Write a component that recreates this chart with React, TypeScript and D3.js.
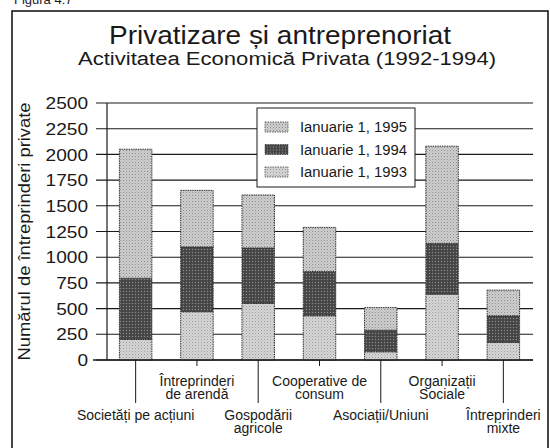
import React from "react";
import * as d3 from "d3";

const categories = [
  "Societăți pe acțiuni",
  "Întreprinderi de arendă",
  "Gospodării agricole",
  "Cooperative de consum",
  "Asociații/Uniuni",
  "Organizații Sociale",
  "Întreprinderi mixte",
];
const labelLines = [
  ["Societăți pe acțiuni"],
  ["Întreprinderi", "de arendă"],
  ["Gospodării", "agricole"],
  ["Cooperative de", "consum"],
  ["Asociații/Uniuni"],
  ["Organizații", "Sociale"],
  ["Întreprinderi", "mixte"],
];
// cumulative counts at each date
const jan1993 = [200, 470, 550, 430, 80, 640, 170];
const jan1994 = [795, 1100, 1090, 860, 290, 1135, 430];
const jan1995 = [2050, 1650, 1605, 1290, 510, 2080, 680];
const yTicks = [0, 250, 500, 750, 1000, 1250, 1500, 1750, 2000, 2250, 2500];
const legendLabels = ["Ianuarie 1, 1995", "Ianuarie 1, 1994", "Ianuarie 1, 1993"];

const W = 550;
const H = 448;
const FONT = "'Liberation Sans', Arial, Helvetica, sans-serif";
const INK = "#1a1a1a";

export default function App() {
  const x = d3.scaleBand<string>().domain(categories).range([105, 534]).paddingInner(0.47).paddingOuter(0.235);
  const y = d3.scaleLinear().domain([0, 2500]).range([360, 103]);
  const bw = x.bandwidth();

  const segs = categories.map((c, i) => [
    { y0: 0, y1: jan1993[i], fill: "url(#light)" },
    { y0: jan1993[i], y1: jan1994[i], fill: "url(#dark)" },
    { y0: jan1994[i], y1: jan1995[i], fill: "url(#light2)" },
  ]);

  const lgX = 257, lgY = 108, lgW = 158, lgH = 79;
  const lgFills = ["url(#light2)", "url(#dark)", "url(#light)"];

  return (
    <svg width={W} height={H} style={{ display: "block", position: "absolute", left: 0, top: 0, background: "#fff" }} fontFamily={FONT}>
      <defs>
        <pattern id="light" width="3" height="3" patternUnits="userSpaceOnUse">
          <rect width="3" height="3" fill="#d6d6d6" />
          <rect x="0" y="0" width="1" height="1" fill="#9a9a9a" />
          <rect x="1.5" y="1.5" width="1" height="1" fill="#b0b0b0" />
        </pattern>
        <pattern id="light2" width="3" height="3" patternUnits="userSpaceOnUse">
          <rect width="3" height="3" fill="#cecece" />
          <rect x="0" y="0" width="1" height="1" fill="#8e8e8e" />
          <rect x="1.5" y="1.5" width="1" height="1" fill="#a8a8a8" />
        </pattern>
        <pattern id="dark" width="3" height="3" patternUnits="userSpaceOnUse">
          <rect width="3" height="3" fill="#4d4d4d" />
          <rect x="0" y="0" width="1" height="1" fill="#8a8a8a" />
          <rect x="1.5" y="1.5" width="1" height="1" fill="#2a2a2a" />
        </pattern>
      </defs>
      <rect x={0} y={0} width={W} height={H} fill="#fff" />
      <text x={14} y={4} fontSize={13} fill={INK}>Figura 4.7</text>
      <rect x={12} y={11} width={536} height={470} fill="none" stroke={INK} strokeWidth={1.6} />

      <text x={280} y={44} textAnchor="middle" fontSize={25} fill={INK} textLength={342} lengthAdjust="spacingAndGlyphs">
        Privatizare și antreprenoriat
      </text>
      <text x={287} y={65} textAnchor="middle" fontSize={18} fill={INK} textLength={418} lengthAdjust="spacingAndGlyphs">
        Activitatea Economică Privata (1992-1994)
      </text>

      {/* gridlines */}
      {yTicks.map((t) => (
        <line key={t} x1={96} x2={533} y1={y(t)} y2={y(t)} stroke={INK} strokeWidth={1.1} />
      ))}
      <line x1={107} x2={107} y1={y(2500)} y2={y(0)} stroke={INK} strokeWidth={1.2} />
      {yTicks.map((t) => (
        <text key={"l" + t} x={88} y={y(t)} dy="0.36em" textAnchor="end" fontSize={17} fill={INK}
          textLength={String(t).length * 10.6} lengthAdjust="spacingAndGlyphs">
          {t}
        </text>
      ))}
      <text transform={`translate(30,${(y(2500) + y(0)) / 2}) rotate(-90)`} textAnchor="middle" fontSize={16.5} fill={INK}
        textLength={258} lengthAdjust="spacingAndGlyphs">
        Numărul de întreprinderi private
      </text>

      {/* legend */}
      <rect x={lgX} y={lgY} width={lgW} height={lgH} fill="#fff" stroke={INK} strokeWidth={1} />
      {legendLabels.map((l, i) => (
        <g key={l} transform={`translate(0,${127 + i * 22.5})`}>
          <rect x={265} y={-5} width={23} height={10} fill={lgFills[i]} stroke="#444" strokeWidth={0.8} strokeDasharray="1.5,1" />
          <text x={300} y={0} dy="0.36em" fontSize={14} fill={INK} textLength={107} lengthAdjust="spacingAndGlyphs">{l}</text>
        </g>
      ))}

      {/* bars */}
      {categories.map((c, i) => (
        <g key={c}>
          {segs[i].map((s, k) => (
            <rect key={k} x={x(c)} y={y(s.y1)} width={bw} height={y(s.y0) - y(s.y1)} fill={s.fill}
              stroke="#333" strokeWidth={1} strokeDasharray="1.5,0.8" />
          ))}
        </g>
      ))}

      {/* x axis */}
      <line x1={93} x2={533} y1={y(0)} y2={y(0)} stroke={INK} strokeWidth={1.4} />
      {categories.map((c, i) => {
        const cx = (x(c) as number) + bw / 2;
        const low = i % 2 === 0;
        return (
          <g key={"t" + c}>
            <line x1={cx} x2={cx} y1={y(0)} y2={low ? 403 : 366} stroke={INK} strokeWidth={1} />
            <text x={cx} y={low ? 420 : 386} textAnchor="middle" fontSize={14} fill={INK}>
              {labelLines[i].map((ln, j) => (
                <tspan key={j} x={cx} dy={j === 0 ? 0 : 13}>{ln}</tspan>
              ))}
            </text>
          </g>
        );
      })}
    </svg>
  );
}
